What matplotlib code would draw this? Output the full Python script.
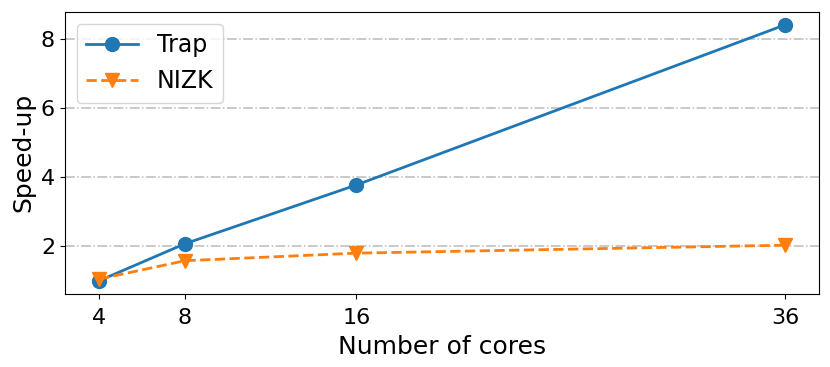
import matplotlib
matplotlib.use("Agg")
import matplotlib.pyplot as plt

cores = [4, 8, 16, 36]
trap = [1.0, 2.07, 3.77, 8.4]
nizk = [1.05, 1.58, 1.80, 2.03]

plt.rcParams['font.size'] = 16
fig, ax = plt.subplots(figsize=(8.3, 3.67), dpi=100)
ax.plot(cores, trap, '-o', color='#1f77b4', markersize=10, linewidth=2, label='Trap')
ax.plot(cores, nizk, '--v', color='#ff7f0e', markersize=10, linewidth=2, label='NIZK')
ax.set_xticks(cores)
ax.set_yticks([2, 4, 6, 8])
ax.tick_params(axis='x', pad=7)
ax.yaxis.grid(True, linestyle='-.', color='#bbbbbb', linewidth=1.1)
ax.set_axisbelow(True)
ax.set_xlabel('Number of cores', fontsize=18, labelpad=5)
ax.set_ylabel('Speed-up', fontsize=18)
ax.legend(loc='upper left', fontsize=17, handlelength=2.2)
fig.subplots_adjust(left=0.078, right=0.987, top=0.967, bottom=0.2)
fig.savefig('out.png')
